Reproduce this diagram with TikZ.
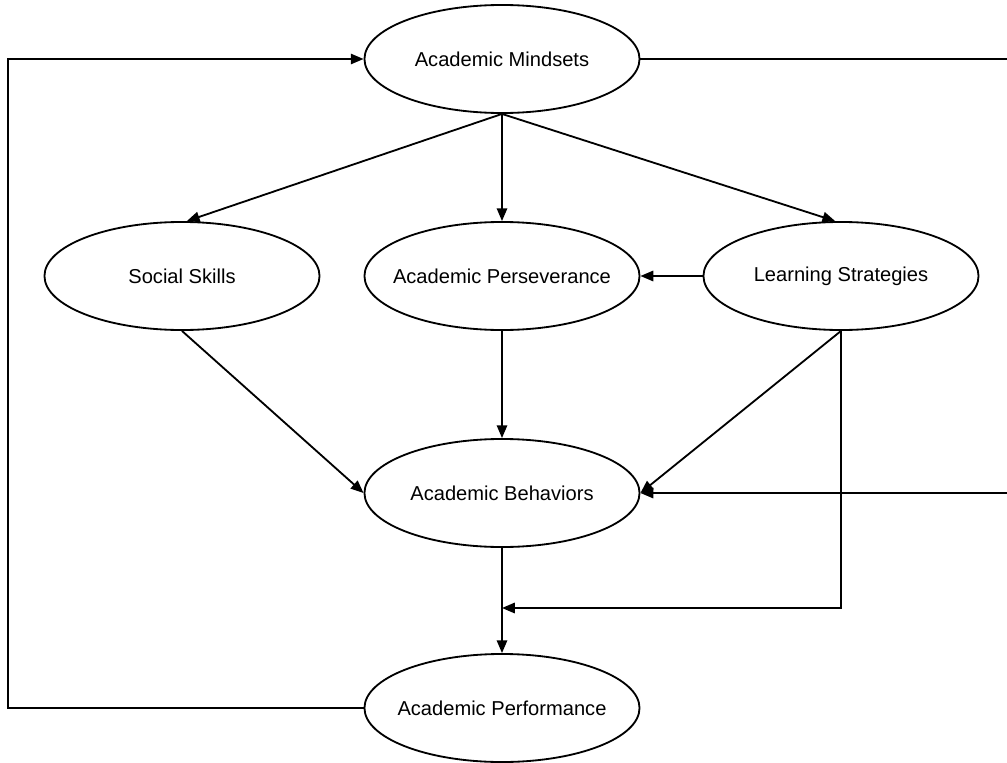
\documentclass[tikz,border=0pt]{standalone}
\usepackage{fontspec}
\setmainfont{Liberation Sans}
\usetikzlibrary{arrows.meta,calc,shapes.geometric}
\begin{document}
\begin{tikzpicture}[x=0.025cm,y=-0.025cm,
  oval/.style={ellipse,draw,line width=1.3pt,minimum width=6.875cm,minimum height=2.7cm,inner sep=0pt,font=\fontsize{14.3}{16}\selectfont},
  conn/.style={line width=1.3pt},
  arr/.style={conn,-{Triangle[length=0.32cm,width=0.26cm]}}]
\useasboundingbox (0,0) rectangle (1007,763);
\newcommand{\lbl}[1]{\makebox[0pt][c]{#1}}
\node[oval] (M) at (502,59) {\lbl{Academic Mindsets}};
\node[oval] (S) at (182,276) {\lbl{Social Skills}};
\node[oval] (P) at (502,276) {\lbl{Academic Perseverance}};
\node[oval] (L) at (841,276) {\lbl{Learning Strategies}};
\node[oval] (B) at (502,493) {\lbl{Academic Behaviors}};
\node[oval] (F) at (502,708) {\lbl{Academic Performance}};
\coordinate (RT) at (1007,59);
\coordinate (RB) at (1007,493);
\coordinate (J) at (502,608);
\draw[arr] (M.south) -- (S.85);
\draw[arr] (M.south) -- (P.north);
\draw[arr] (M.south) -- (L.96);
\draw[arr] (L.west) -- (P.east);
\draw[arr] (S.south) -- (B.west);
\draw[arr] (P.south) -- (B.north);
\draw[arr] (L.south) -- (B.east);
\draw[arr] (L.south) |- (J);
\draw[arr] (B.south) -- (F.north);
\draw[arr] (F.west) -- (8,708) |- (M.west);
\draw[conn] (M.east) -- (RT);
\draw[arr] (RB) -- (B.east);
\end{tikzpicture}
\end{document}
